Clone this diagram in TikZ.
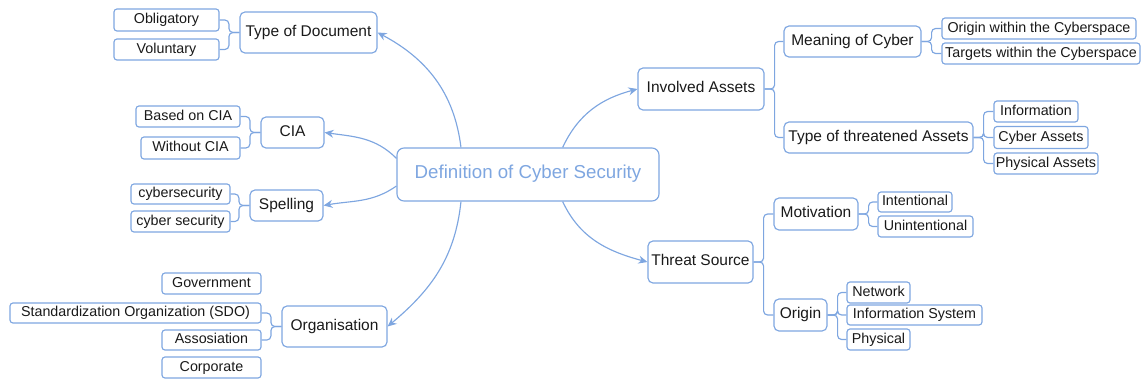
\documentclass[tikz,border=0pt]{standalone}
\usepackage{fontspec}
\setmainfont{Liberation Sans}
\usetikzlibrary{arrows.meta,calc}
\definecolor{lb}{RGB}{126,166,224}
\newcommand\brL[2]{\draw[brace] (#1.west) -- ++(-10.5,0) |- (#2.east);}
\newcommand\brR[2]{\draw[brace] (#1.east) -- ++(10,0) |- (#2.west);}
\begin{document}
\begin{tikzpicture}[x=1pt,y=-1pt,
  box/.style={draw=lb, line width=1.15pt, rounded corners=5pt, inner sep=0pt, align=center, text=black!90, text height=0.9em, text depth=0.184em},
  leaf/.style={box, rounded corners=3pt, font=\fontsize{14.3}{16}\selectfont},
  mid/.style={box, font=\fontsize{15.5}{18}\selectfont},
  rootbox/.style={box, rounded corners=7pt, text=lb, font=\fontsize{18.7}{22}\selectfont},
  link/.style={draw=lb, line width=1.15pt, -{Stealth[length=9pt,width=8pt]}},
  brace/.style={draw=lb, line width=1.15pt, rounded corners=4pt}
]
\useasboundingbox (0,0) rectangle (1143,381);

% root
\node[rootbox, minimum width=262, minimum height=53] (root) at (528,174.5) {Definition of Cyber Security};

% left side
\node[mid, minimum width=137, minimum height=41] (tod) at (308.5,32.5) {Type of Document};
\node[leaf, minimum width=105, minimum height=22] (obl) at (166.5,20) {Obligatory};
\node[leaf, minimum width=105, minimum height=21] (vol) at (166.5,49.5) {Voluntary};

\node[mid, minimum width=63, minimum height=31] (cia) at (292.5,132.5) {CIA};
\node[leaf, minimum width=104, minimum height=21] (bcia) at (188,116.5) {Based on CIA};
\node[leaf, minimum width=99, minimum height=22] (wcia) at (190.5,148) {Without CIA};

\node[mid, minimum width=73, minimum height=31] (spell) at (286.5,205.5) {Spelling};
\node[leaf, minimum width=99, minimum height=20] (cs1) at (180.5,194) {cybersecurity};
\node[leaf, minimum width=99, minimum height=21] (cs2) at (180.5,221.5) {cyber security};

\node[mid, minimum width=105, minimum height=41] (org) at (334.5,326.5) {Organisation};
\node[leaf, minimum width=99, minimum height=21] (gov) at (211.5,283.5) {Government};
\node[leaf, minimum width=251, minimum height=20] (sdo) at (135.5,313) {Standardization Organization (SDO)};
\node[leaf, minimum width=99, minimum height=20] (asso) at (211.5,340) {Assosiation};
\node[leaf, minimum width=99, minimum height=21] (corp) at (211.5,367.5) {Corporate};

% right side
\node[mid, minimum width=126, minimum height=42] (inv) at (701,89) {Involved Assets};
\node[mid, minimum width=137, minimum height=31] (moc) at (852.5,41.5) {Meaning of Cyber};
\node[leaf, minimum width=194, minimum height=21] (owc) at (1039,28.5) {Origin within the Cyberspace};
\node[leaf, minimum width=198, minimum height=21] (twc) at (1041,53.5) {Targets within the Cyberspace};
\node[mid, minimum width=189, minimum height=31] (tta) at (878.5,137.5) {Type of threatened Assets};
\node[leaf, minimum width=84, minimum height=21] (info) at (1036,111.5) {Information};
\node[leaf, minimum width=94, minimum height=22] (cyba) at (1041,137.5) {Cyber Assets};
\node[leaf, minimum width=104, minimum height=21] (phya) at (1046,163.5) {Physical Assets};

\node[mid, minimum width=105, minimum height=42] (ts) at (700.5,262) {Threat Source};
\node[mid, minimum width=84, minimum height=32] (mot) at (816,214) {Motivation};
\node[leaf, minimum width=74, minimum height=20] (int) at (915,202) {Intentional};
\node[leaf, minimum width=95, minimum height=21] (unint) at (925.5,226.5) {Unintentional};
\node[mid, minimum width=53, minimum height=32] (ori) at (800.5,315) {Origin};
\node[leaf, minimum width=63, minimum height=21] (net) at (878.5,292.5) {Network};
\node[leaf, minimum width=135, minimum height=20] (infs) at (914.5,315) {Information System};
\node[leaf, minimum width=63, minimum height=21] (phys) at (878.5,339.5) {Physical};

% braces
\brL{tod}{obl} \brL{tod}{vol}
\brL{cia}{bcia} \brL{cia}{wcia}
\brL{spell}{cs1} \brL{spell}{cs2}
\brL{org}{sdo} \brL{org}{asso}
\brR{inv}{moc} \brR{inv}{tta}
\brR{moc}{owc} \brR{moc}{twc}
\brR{tta}{info} \brR{tta}{cyba} \brR{tta}{phya}
\brR{ts}{mot} \brR{ts}{ori}
\brR{mot}{int} \brR{mot}{unint}
\brR{ori}{net} \brR{ori}{infs} \brR{ori}{phys}

% links
\draw[link] (root.158) to[out=97,in=-28] (tod.east);
\draw[link] (root.173) to[out=135,in=-8] (cia.east);
\draw[link] (root.185) to[out=215,in=10] (spell.east);
\draw[link] (root.202) to[out=-96,in=40] (org.east);
\draw[link] (root.38) to[out=65,in=-165] (inv.west);
\draw[link] (root.-38) to[out=-65,in=165] (ts.west);
\end{tikzpicture}
\end{document}
